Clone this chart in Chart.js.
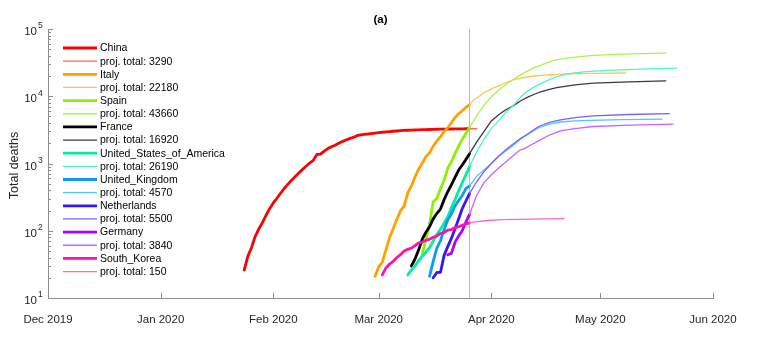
<!DOCTYPE html>
<html>
<head>
<meta charset="utf-8">
<script src="https://cdn.jsdelivr.net/npm/chart.js@4.4.1/dist/chart.umd.min.js"></script>
<style>
  html, body { margin: 0; padding: 0; background: #fff; }
  #wrap { width: 771px; height: 339px; position: relative; }
</style>
</head>
<body>
<div id="wrap"><canvas id="deathsChart"></canvas></div>
<script>
// days counted from 1 Dec 2019
const monthDays = [0, 31, 62, 91, 122, 152, 183];
const monthLabels = ['Dec 2019', 'Jan 2020', 'Feb 2020', 'Mar 2020', 'Apr 2020', 'May 2020', 'Jun 2020'];
const yTickExponents = [1, 2, 3, 4, 5];
const cutoffDay = 116;

const countries = ['China', 'Italy', 'Spain', 'France', 'United_States_of_America',
  'United_Kingdom', 'Netherlands', 'Germany', 'South_Korea'];
const projTotals = [3290, 22180, 43660, 16920, 26190, 4570, 5500, 3840, 150];

// observed totals, one value per day from the start day
const chinaStart = 54;
const chinaDeaths = [26, 42, 56, 82, 106, 132, 170, 213, 259, 304, 361, 425, 490, 563, 636, 722, 811, 908, 1016, 1113,
  1368, 1381, 1524, 1666, 1772, 1870, 2006, 2121, 2239, 2348, 2445, 2595, 2665, 2717, 2746, 2790, 2837, 2872, 2914, 2947,
  2983, 3015, 3044, 3072, 3100, 3123, 3139, 3161, 3172, 3180, 3194, 3203, 3217, 3230, 3241, 3249, 3253, 3259, 3274, 3274,
  3281, 3285, 3291];
const italyStart = 90;
const italyDeaths = [21, 29, 34, 52, 79, 107, 148, 197, 233, 366, 463, 631, 827, 1016, 1266, 1441, 1809, 2158, 2503, 2978,
  3405, 4032, 4825, 5476, 6077, 6820, 7503];
const spainStart = 103;
const spainDeaths = [45, 75, 125, 270, 300, 420, 560, 850, 1050, 1400, 1800, 2300, 2800, 3430];
const franceStart = 100;
const franceDeaths = [30, 38, 52, 75, 95, 115, 150, 180, 210, 290, 380, 480, 620, 800, 950, 1150, 1400];
const usaStart = 99;
const usaDeaths = [22, 26, 30, 36, 42, 48, 56, 70, 88, 105, 130, 160, 220, 290, 390, 520, 680, 900];
const ukStart = 105;
const ukDeaths = [21, 35, 55, 71, 104, 144, 177, 233, 281, 335, 422, 465];
const nlStart = 106;
const nlDeaths = [20, 24, 24, 43, 58, 77, 107, 150, 214, 277, 357];
const germanyStart = 110;
const germanyDeaths = [44, 46, 67, 84, 100, 135, 175];
const koreaStart = 92;
const koreaDeaths = [22, 28, 32, 35, 40, 44, 50, 53, 55, 60, 66, 68, 72, 75, 80, 84, 91, 94, 102, 104, 111, 115, 120, 126, 131];

// projections
const chinaProjDays = [116, 118];
const chinaProj = [3291, 3291];
const italyProjDays = [116, 117, 118, 120, 122, 124, 126, 128, 131, 134, 138, 143, 150, 159];
const italyProj = [7503, 8700, 9400, 11300, 12900, 14300, 16000, 17500, 19000, 20000, 20900, 21500, 21900, 22180];
const spainProjDays = [116, 118, 120, 122, 124, 126, 128, 130, 132, 134, 136, 138, 140, 145, 150, 160, 170];
const spainProj = [3430, 5200, 7400, 9800, 12300, 15000, 17700, 20800, 23800, 26800, 29600, 32500, 35000, 38200, 40500, 42700, 43660];
const franceProjDays = [116, 118, 120, 122, 124, 126, 128, 130, 132, 134, 136, 138, 140, 145, 150, 160, 170];
const franceProj = [1400, 2100, 3000, 4300, 5300, 6300, 7200, 8500, 9700, 10800, 11800, 12700, 13400, 14800, 15700, 16400, 16920];
const usaProjDays = [116, 118, 120, 122, 124, 126, 128, 130, 132, 134, 136, 138, 140, 143, 148, 154, 163, 173];
const usaProj = [900, 1500, 2300, 3300, 4300, 5800, 7200, 9700, 12000, 13900, 15800, 17700, 19500, 21500, 23200, 24300, 25300, 26190];
const ukProjDays = [116, 118, 120, 122, 124, 126, 128, 130, 132, 135, 138, 141, 145, 149, 158, 169];
const ukProj = [465, 650, 800, 1000, 1280, 1550, 1850, 2300, 2700, 3400, 3850, 4140, 4300, 4390, 4480, 4570];
const nlProjDays = [116, 118, 120, 122, 124, 126, 128, 130, 132, 135, 138, 141, 145, 150, 160, 171];
const nlProj = [357, 540, 760, 1000, 1280, 1600, 1950, 2350, 2750, 3550, 4100, 4450, 4800, 5100, 5350, 5500];
const germanyProjDays = [116, 118, 120, 122, 124, 126, 128, 130, 131, 133, 135, 138, 141, 145, 150, 160, 172];
const germanyProj = [175, 340, 520, 680, 860, 1050, 1300, 1600, 1650, 1900, 2170, 2650, 3050, 3300, 3550, 3720, 3840];
const koreaProjDays = [116, 118, 121, 125, 130, 136, 142];
const koreaProj = [131, 137, 142, 146, 148, 150, 151];

const colors = ['#ff0000', '#ffa200', '#8ef000', '#000000', '#00eea0', '#0a9cf5', '#3a14ff', '#b000f5', '#ff10b0'];
const projColors = ['#ff6060', '#ffc45c', '#a8f548', '#3a3a3a', '#48f8c4', '#50c4ff', '#7464ff', '#cc62ff', '#ff66cc'];

const observed = [
  [chinaStart, chinaDeaths], [italyStart, italyDeaths], [spainStart, spainDeaths], [franceStart, franceDeaths],
  [usaStart, usaDeaths], [ukStart, ukDeaths], [nlStart, nlDeaths], [germanyStart, germanyDeaths], [koreaStart, koreaDeaths]
];
const projected = [
  [chinaProjDays, chinaProj], [italyProjDays, italyProj], [spainProjDays, spainProj], [franceProjDays, franceProj],
  [usaProjDays, usaProj], [ukProjDays, ukProj], [nlProjDays, nlProj], [germanyProjDays, germanyProj], [koreaProjDays, koreaProj]
];

const axisColor = '#8c8c8c';
const textColor = '#262626';
const FONT = '"Liberation Sans", Arial, Helvetica, sans-serif';

const datasets = [];
datasets.push({
  label: 'cutoff',
  data: [{ x: cutoffDay, y: 10 }, { x: cutoffDay, y: 100000 }],
  borderColor: '#b9b9b9', borderWidth: 1, order: 100
});
countries.forEach((name, i) => {
  const [start, vals] = observed[i];
  const [pDays, pVals] = projected[i];
  datasets.push({
    label: name,
    data: vals.map((v, k) => ({ x: start + k, y: v })),
    borderColor: colors[i], borderWidth: 2.8, order: 60 - 2 * i
  });
  datasets.push({
    label: 'proj. total: ' + projTotals[i],
    data: pDays.map((d, k) => ({ x: d, y: pVals[k] })),
    borderColor: projColors[i], borderWidth: 1.3, order: 59 - 2 * i
  });
});

const decor = {
  id: 'decor',
  afterDraw(chart) {
    const { ctx, chartArea: a, scales: { x, y } } = chart;
    ctx.save();
    ctx.strokeStyle = axisColor;
    ctx.lineWidth = 1;
    ctx.beginPath();
    yTickExponents.forEach(e => {
      for (let m = 1; m < 10; m++) {
        const v = m * Math.pow(10, e);
        if (v > 100000) break;
        const py = Math.round(y.getPixelForValue(v)) + 0.5;
        ctx.moveTo(a.left, py);
        ctx.lineTo(a.left + (m === 1 ? 5 : 3), py);
      }
    });
    monthDays.forEach(d => {
      const px = Math.round(x.getPixelForValue(d)) + 0.5;
      ctx.moveTo(px, a.bottom);
      ctx.lineTo(px, a.bottom - 5);
    });
    ctx.stroke();

    // y tick labels 10^n
    ctx.fillStyle = textColor;
    ctx.textBaseline = 'middle';
    yTickExponents.forEach(e => {
      const py = y.getPixelForValue(Math.pow(10, e));
      ctx.font = '11.5px ' + FONT;
      ctx.textAlign = 'right';
      ctx.fillText('10', 37, py + 3);
      ctx.font = '8.5px ' + FONT;
      ctx.textAlign = 'left';
      ctx.fillText(String(e), 38, py - 3);
    });

    // title and axis label
    ctx.font = 'bold 11.5px ' + FONT;
    ctx.textAlign = 'center';
    ctx.fillStyle = '#000';
    ctx.fillText('(a)', (a.left + a.right) / 2, 20);
    ctx.save();
    ctx.translate(15, (a.top + a.bottom) / 2 + 2);
    ctx.rotate(-Math.PI / 2);
    ctx.font = '12.5px ' + FONT;
    ctx.fillStyle = textColor;
    ctx.fillText('Total deaths', 0, 0);
    ctx.restore();

    // legend
    ctx.font = '10.5px ' + FONT;
    ctx.textAlign = 'left';
    ctx.fillStyle = '#000';
    datasets.slice(1).forEach((ds, i) => {
      const ly = 48 + i * 13.15;
      ctx.strokeStyle = ds.borderColor;
      ctx.lineWidth = ds.borderWidth;
      ctx.beginPath();
      ctx.moveTo(63, ly);
      ctx.lineTo(97, ly);
      ctx.stroke();
      ctx.fillText(ds.label, 100, ly + 0.5);
    });
    ctx.restore();
  }
};

new Chart(document.getElementById('deathsChart'), {
  type: 'line',
  data: { datasets },
  options: {
    responsive: true,
    maintainAspectRatio: false,
    animation: false,
    devicePixelRatio: 1,
    layout: { padding: { left: 0, right: 58, top: 29, bottom: 0 } },
    elements: {
      point: { radius: 0, hoverRadius: 0 },
      line: { tension: 0, borderJoinStyle: 'round', borderCapStyle: 'round', fill: false }
    },
    plugins: { legend: { display: false }, tooltip: { enabled: false }, title: { display: false } },
    scales: {
      x: {
        type: 'linear',
        min: 0,
        max: 183,
        grid: { display: false },
        border: { display: true, color: axisColor, width: 1 },
        afterBuildTicks: s => { s.ticks = monthDays.map(v => ({ value: v })); },
        afterFit: s => { s.height = 41; },
        ticks: {
          autoSkip: false,
          maxRotation: 0,
          padding: 7,
          color: textColor,
          font: { size: 11.5, family: FONT },
          callback: (v, idx) => monthLabels[idx]
        }
      },
      y: {
        type: 'logarithmic',
        min: 10,
        max: 100000,
        grid: { display: false },
        border: { display: true, color: axisColor, width: 1 },
        ticks: { display: false },
        afterFit: s => { s.width = 48; }
      }
    }
  },
  plugins: [decor]
});
</script>
</body>
</html>
